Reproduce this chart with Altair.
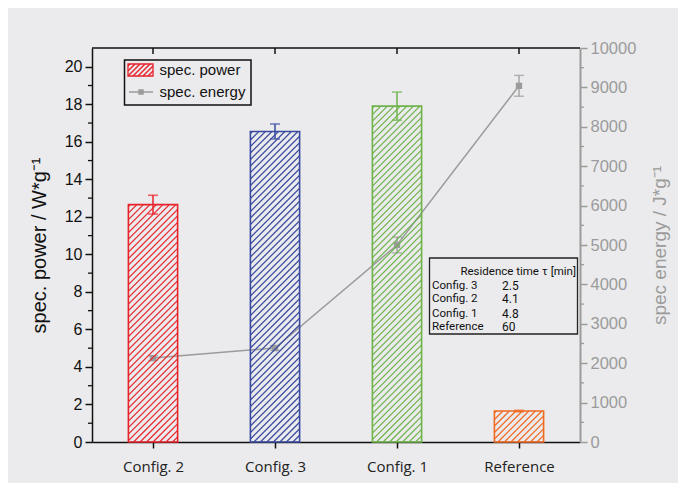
import altair as alt
import pandas as pd

# ---------------- data ----------------
categories = ["Config. 2", "Config. 3", "Config. 1", "Reference"]
power = [12.65, 16.55, 17.9, 1.65]
power_err = [0.5, 0.4, 0.75, 0.04]
energy = [2130, 2385, 5000, 9040]
energy_err = [60, 60, 200, 265]
bar_colors = ["#e8232b", "#3a4b9f", "#6db34a", "#f06a22"]
err_colors = ["#e8232b", "#2e3f94", "#5fa83e", "#f06a22"]
power_ticks = list(range(0, 21, 2))
power_minor = list(range(1, 21, 2))
energy_ticks = list(range(0, 10001, 1000))
energy_minor = list(range(500, 10000, 1000))
legend_labels = ["spec. power", "spec. energy"]
table_header = "Residence time τ [min]"
table_rows = ["Config. 3", "Config. 2", "Config. 1", "Reference"]
table_tau = ["2.5", "4.1", "4.8", "60"]

# ---------------- layout ----------------
W, H = 488, 394
PMAX = 21
EMAX = 10000
HALF = 0.2017
GREY = "#9b9b9b"
BG = "#ebebed"
FONT = "Liberation Sans"

n = len(categories)
step = W / n
ppu = H / PMAX

df = pd.DataFrame({
    "cat": categories,
    "idx": list(range(n)),
    "power": power,
    "perr": power_err,
    "energy": energy,
    "eerr": energy_err,
})
df["xl"] = df["idx"] - HALF
df["xr"] = df["idx"] + HALF
df["zero"] = 0
df["plo"] = df["power"] - df["perr"]
df["phi"] = df["power"] + df["perr"]
df["elo"] = df["energy"] - df["eerr"]
df["ehi"] = df["energy"] + df["eerr"]

caps_p = pd.concat([
    pd.DataFrame({"cat": categories, "idx": df["idx"], "v": df["plo"]}),
    pd.DataFrame({"cat": categories, "idx": df["idx"], "v": df["phi"]}),
])
caps_e = pd.concat([
    pd.DataFrame({"idx": df["idx"], "v": df["elo"]}),
    pd.DataFrame({"idx": df["idx"], "v": df["ehi"]}),
])

# hatch segments for bars, derived from bar values
spacing = 6.5
segs = []
for i, v in enumerate(power):
    x0 = (i + 0.5 - HALF) * step
    x1 = (i + 0.5 + HALF) * step
    hgt = v * ppu
    cc = x0 - hgt + 2
    while cc < x1:
        hl = max(0.0, x0 - cc)
        hu = min(hgt, x1 - cc)
        if hu > hl:
            segs.append(dict(cat=categories[i],
                             xa=(cc + hl) / step - 0.5, ya=hl / ppu,
                             xb=(cc + hu) / step - 0.5, yb=hu / ppu))
        cc += spacing
hatch_df = pd.DataFrame(segs)

xs = alt.Scale(domain=[-0.5, n - 0.5], nice=False, zero=False)
ys_p = alt.Scale(domain=[0, PMAX], nice=False)
ys_e = alt.Scale(domain=[0, EMAX], nice=False)
cs = alt.Scale(domain=categories, range=bar_colors)
ces = alt.Scale(domain=categories, range=err_colors)

label_js = "[" + ",".join("'" + c + "'" for c in categories) + "]"
x_axis = alt.Axis(values=list(range(n)), labelExpr=label_js + "[datum.value]",
                  tickSize=6, tickWidth=1.5, tickColor="#111", domainColor="#111",
                  domainWidth=1.5, labelFont="Open Sans", labelFontSize=15,
                  labelColor="#222", labelPadding=11, grid=False, title=None)
P_TITLE = "spec. power / W*g⁻¹"
E_TITLE = "spec energy / J*g⁻¹"
yp_axis = alt.Axis(orient="left", values=power_ticks, format="d", tickSize=7, tickWidth=1.5,
                   tickColor="#111", domainColor="#111", domainWidth=1.5,
                   labelFont=FONT, labelFontSize=16, labelColor="#111",
                   labelPadding=3, grid=False, title=P_TITLE, titleFont=FONT,
                   titleFontSize=20, titleFontWeight="normal",
                   titleColor="#111", titlePadding=15)
ye_axis = alt.Axis(orient="right", values=energy_ticks, format="d", tickSize=7, tickWidth=1.5,
                   tickColor=GREY, domainColor=GREY, domainWidth=2,
                   labelFont=FONT, labelFontSize=16.5, labelColor=GREY,
                   labelPadding=3, grid=False, title=E_TITLE, titleFont=FONT,
                   titleFontSize=19, titleFontWeight="normal", titleAngle=270,
                   titleColor=GREY, titlePadding=34)


def X(f):
    return alt.X(f, scale=xs, axis=x_axis, title=None)


def YP(f):
    return alt.Y(f, scale=ys_p, axis=yp_axis, title=P_TITLE)


def YE(f):
    return alt.Y(f, scale=ys_e, axis=ye_axis, title=E_TITLE)


# ---------------- power group ----------------
bars = alt.Chart(df).mark_bar(fill="transparent", strokeWidth=1.6).encode(
    x=X("xl:Q"), x2="xr:Q",
    y=YP("power:Q"), y2="zero:Q",
    stroke=alt.Stroke("cat:N", scale=cs, legend=None),
)
hatch = alt.Chart(hatch_df).mark_rule(strokeWidth=1.2).encode(
    x=X("xa:Q"), x2="xb:Q",
    y=YP("ya:Q"), y2="yb:Q",
    color=alt.Color("cat:N", scale=cs, legend=None),
)
perr_rule = alt.Chart(df).mark_rule(strokeWidth=1.5).encode(
    x=X("idx:Q"),
    y=YP("plo:Q"), y2="phi:Q",
    color=alt.Color("cat:N", scale=ces, legend=None),
)
perr_caps = alt.Chart(caps_p).mark_tick(orient="horizontal", size=10, thickness=1.6).encode(
    x=X("idx:Q"),
    y=YP("v:Q"),
    color=alt.Color("cat:N", scale=ces, legend=None),
)
minor_left = alt.Chart(pd.DataFrame({"v": power_minor})).mark_rule(
    color="#111", strokeWidth=1.3).encode(
    x=alt.value(-4), x2=alt.value(0),
    y=YP("v:Q"),
)
power_group = alt.layer(bars, hatch, perr_rule, perr_caps, minor_left)

# ---------------- energy group ----------------
eline = alt.Chart(df).mark_line(color=GREY, strokeWidth=1.5).encode(
    x=X("idx:Q"), y=YE("energy:Q"),
)
epts = alt.Chart(df).mark_square(size=40, color=GREY, opacity=1).encode(
    x=X("idx:Q"), y=YE("energy:Q"),
)
eerr_rule = alt.Chart(df).mark_rule(strokeWidth=1.3, color=GREY).encode(
    x=X("idx:Q"), y=YE("elo:Q"), y2="ehi:Q",
)
eerr_caps = alt.Chart(caps_e).mark_tick(orient="horizontal", size=10, thickness=1.5,
                                        color=GREY).encode(
    x=X("idx:Q"), y=YE("v:Q"),
)
minor_right = alt.Chart(pd.DataFrame({"v": energy_minor})).mark_rule(
    color=GREY, strokeWidth=1.3).encode(
    x=alt.value(W), x2=alt.value(W + 4),
    y=YE("v:Q"),
)
energy_group = alt.layer(eline, eerr_rule, eerr_caps, epts, minor_right)

# ---------------- frame ----------------
one = pd.DataFrame({"a": [0]})
top_border = alt.Chart(one).mark_rule(color="#111", strokeWidth=1.5).encode(
    x=alt.value(0), x2=alt.value(W), y=alt.value(0))
top_ticks = alt.Chart(df).mark_rule(color="#111", strokeWidth=1.5).encode(
    x=X("idx:Q"), y=alt.value(0), y2=alt.value(6))

# ---------------- legend ----------------
extras = []
extras.append(alt.Chart(one).mark_rect(fill="transparent", stroke="#111", strokeWidth=1.5).encode(
    x=alt.value(32.5), x2=alt.value(159), y=alt.value(12), y2=alt.value(57)))
sx0, sx1, sy0, sy1 = 36, 61, 16, 28
extras.append(alt.Chart(one).mark_rect(fill="transparent", stroke=bar_colors[0], strokeWidth=1.3).encode(
    x=alt.value(sx0), x2=alt.value(sx1), y=alt.value(sy0), y2=alt.value(sy1)))
hh = sy1 - sy0
cc = sx0 - hh + 2
while cc < sx1:
    hl = max(0.0, sx0 - cc)
    hu = min(hh, sx1 - cc)
    if hu > hl:
        extras.append(alt.Chart(one).mark_rule(color=bar_colors[0], strokeWidth=1.5).encode(
            x=alt.value(cc + hl), x2=alt.value(cc + hu),
            y=alt.value(sy1 - hl), y2=alt.value(sy1 - hu)))
    cc += 5
extras.append(alt.Chart(one).mark_rule(color=GREY, strokeWidth=1.5).encode(
    x=alt.value(37), x2=alt.value(61), y=alt.value(44)))
extras.append(alt.Chart(one).mark_square(size=30, color=GREY, opacity=1).encode(
    x=alt.value(49), y=alt.value(44)))
for lab, yy in zip(legend_labels, [22, 44]):
    extras.append(alt.Chart(pd.DataFrame({"t": [lab]})).mark_text(
        align="left", baseline="middle", font=FONT, fontSize=15, color="#111").encode(
        x=alt.value(67.5), y=alt.value(yy), text="t:N"))

# ---------------- table inset ----------------
TFONT = "Liberation Sans Narrow, Roboto"
extras.append(alt.Chart(one).mark_rect(fill=BG, stroke="#222", strokeWidth=1.3).encode(
    x=alt.value(337.5), x2=alt.value(485.5), y=alt.value(210), y2=alt.value(286)))
extras.append(alt.Chart(pd.DataFrame({"t": [table_header]})).mark_text(
    align="right", baseline="middle", font=TFONT, fontSize=11.5, color="#111").encode(
    x=alt.value(484), y=alt.value(223.5), text="t:N"))
for lab, tau, yy in zip(table_rows, table_tau, [237.7, 251.3, 265.5, 278.7]):
    extras.append(alt.Chart(pd.DataFrame({"t": [lab]})).mark_text(
        align="left", baseline="middle", font=TFONT, fontSize=11.5, color="#111").encode(
        x=alt.value(340), y=alt.value(yy), text="t:N"))
    extras.append(alt.Chart(pd.DataFrame({"t": [tau]})).mark_text(
        align="left", baseline="middle", font=TFONT, fontSize=12, color="#111").encode(
        x=alt.value(410), y=alt.value(yy), text="t:N"))

chart = alt.layer(energy_group, power_group, top_border, top_ticks, *extras).resolve_scale(
    y="independent"
).properties(
    width=W, height=H,
    autosize=alt.AutoSizeParams(type="none"),
    padding={"left": 84, "top": 40, "right": 98, "bottom": 41},
    background=BG,
).configure_view(stroke=None)

chart.save("out.html", embed_options={"renderer": "svg", "actions": False})
